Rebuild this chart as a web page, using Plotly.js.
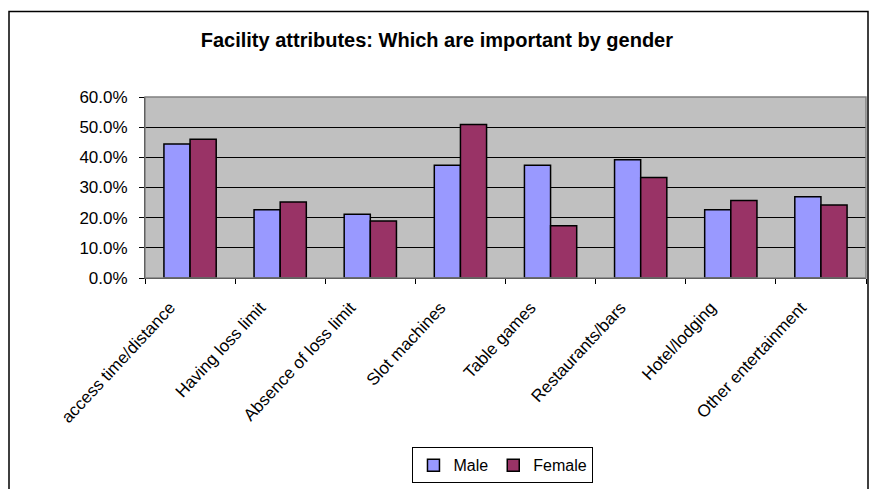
<!DOCTYPE html>
<html>
<head>
<meta charset="utf-8">
<script src="https://cdn.plot.ly/plotly-3.0.1.min.js"></script>
<style>
html,body{margin:0;padding:0;background:#fff;}
#chart{width:872px;height:489px;}
</style>
</head>
<body>
<div id="chart"></div>
<script>
const categories = ["access time/distance","Having loss limit","Absence of loss limit","Slot machines","Table games","Restaurants/bars","Hotel/lodging","Other entertainment"];
const maleValues = [0.444, 0.226, 0.211, 0.374, 0.374, 0.392, 0.226, 0.269];
const femaleValues = [0.460, 0.252, 0.189, 0.509, 0.173, 0.333, 0.257, 0.242];
const seriesNames = ["Male","Female"];
const yTickValues = [0, 0.1, 0.2, 0.3, 0.4, 0.5, 0.6];

const font = "Liberation Sans, Arial, sans-serif";
const traces = [
  {type:"bar", name:seriesNames[0], x:categories, y:maleValues,
   marker:{color:"#9999FF", line:{color:"#000000", width:1.5}}},
  {type:"bar", name:seriesNames[1], x:categories, y:femaleValues,
   marker:{color:"#993366", line:{color:"#000000", width:1.5}}}
];
const layout = {
  width:872, height:489,
  margin:{l:145, r:6, t:97, b:207, pad:0},
  paper_bgcolor:"#FFFFFF", plot_bgcolor:"#C0C0C0",
  font:{family:font, size:16, color:"#000"},
  title:{text:"<b>Facility attributes: Which are important by gender</b>",
         font:{family:font, size:20, color:"#000"},
         x:0.501, xanchor:"center", y:1-40/489, yanchor:"middle"},
  barmode:"group", bargap:0.42, bargroupgap:0,
  xaxis:{type:"category", tickangle:-47, ticks:"outside", ticklen:5, tickson:"boundaries",
         tickcolor:"#000", showline:true, linecolor:"#000", linewidth:1, showgrid:false,
         tickfont:{family:font, size:17}, automargin:false,
         ticklabelshift:-20, ticklabelstandoff:12},
  yaxis:{range:[0,0.6], tickvals:yTickValues, tickformat:".1%", ticks:"outside", ticklen:5,
         tickcolor:"#000", showline:true, linecolor:"#000", linewidth:1,
         showgrid:true, gridcolor:"#000", gridwidth:1, zeroline:false,
         tickfont:{family:font, size:17}, automargin:false, ticklabelstandoff:8},
  showlegend:true,
  legend:{orientation:"h", x:0.4965, xanchor:"center", y:(282-455)/185, yanchor:"top",
          bordercolor:"#000", borderwidth:1, bgcolor:"#FFFFFF",
          font:{family:font, size:16}, itemwidth:20, tracegroupgap:0},
  shapes:[
    {type:"rect", xref:"paper", yref:"paper", x0:0, x1:1, y0:0, y1:1,
     line:{color:"#808080", width:1.5}, fillcolor:"rgba(0,0,0,0)", layer:"above"},
    {type:"rect", xref:"paper", yref:"paper", x0:(9-145)/721, x1:(868-145)/721,
     y0:(282-520)/185, y1:(282-9.5)/185, line:{color:"#000", width:1.5}, fillcolor:"rgba(0,0,0,0)"}
  ]
};
Plotly.newPlot("chart", traces, layout, {displayModeBar:false, staticPlot:true});
</script>
</body>
</html>
